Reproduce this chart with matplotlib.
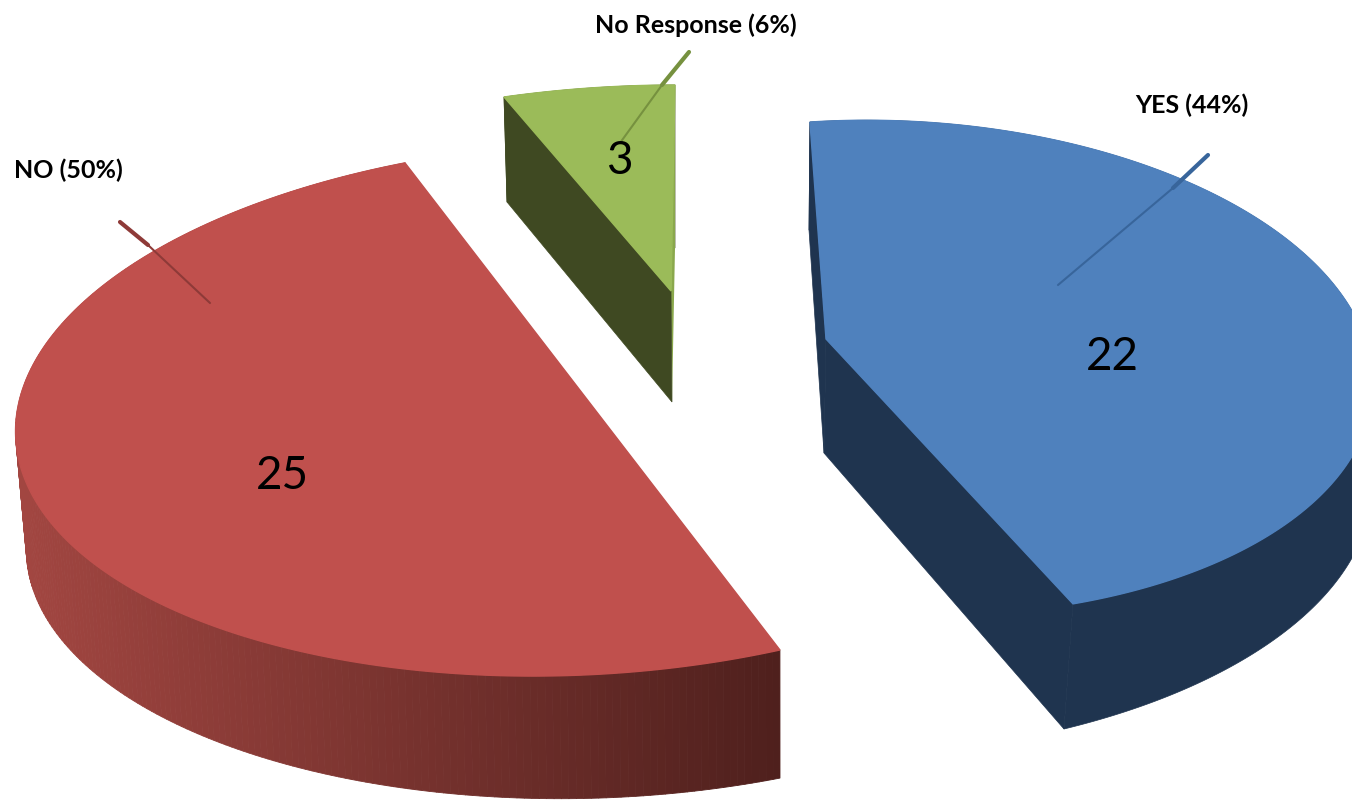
import numpy as np
import matplotlib
matplotlib.use("Agg")
import matplotlib.pyplot as plt
from matplotlib.collections import PolyCollection

names = ["YES", "NO", "No Response"]
values = [22, 25, 3]
top_cols = ["#4F81BD", "#C0504D", "#9BBB59"]
side_cols = ["#1F344F", None, "#3F4922"]
line_cols = ["#38659B", "#8E3A38", "#76913F"]

start_angle = 87.2

# projection anchors of each slice, (fraction of the sweep, pixel); None = pie centre
yes_top = [(None, (826, 339)), (0, (810, 122)), (0.25, (1160, 172)), (0.55, (1378, 380)), (0.8, (1268, 523)), (1, (1073, 604))]
yes_bot = [(None, (824, 453)), (0, (809, 230)), (0.55, (1372, 490)), (0.8, (1262, 648)), (1, (1064, 729))]
no_top = [(0, (780, 650)), (0.25, (338, 655)), (0.5, (52, 528)), (0.75, (74, 300)), (1, (405, 163))]
no_bot = [(0, (780, 778)), (0.25, (345, 786)), (0.5, (60, 625)), (0.75, (85, 430)), (1, (420, 290))]
nr_top = [(None, (671, 291)), (0, (504, 97)), (0.5, (590, 88)), (1, (675, 85))]
nr_bot = [(None, (672, 402)), (0, (507, 202)), (0.5, (590, 215)), (1, (675, 248))]
top_frames = [yes_top, no_top, nr_top]
bot_frames = [yes_bot, no_bot, nr_bot]

value_pos = [(1112, 357), (282, 476), (619, 161)]
label_pos = [(1192, 105), (68, 170), (696, 25)]
leaders = [[(1058, 285), (1173, 188), (1208, 155)],
           [(210, 303), (148, 245), (120, 222)],
           [(620, 143), (662, 85), (689, 52)]]


def fit_h(frame, a0, a1):
    rows = []
    arc_pts = [p for p in frame if p[0] is not None]
    use = frame if len(arc_pts) < 4 else arc_pts
    for frac, (u, v) in use:
        if frac is None:
            x, y = 0.0, 0.0
        else:
            t = np.radians(a0 + (a1 - a0) * frac)
            x, y = np.cos(t), np.sin(t)
        # slice corners count more than the points along the arc
        w = 6 if frac in (0, 1) else 1
        rows.append([w * c for c in [x, y, 1, 0, 0, 0, -u * x, -u * y, -u]])
        rows.append([w * c for c in [0, 0, 0, x, y, 1, -v * x, -v * y, -v]])
    return np.linalg.svd(np.array(rows))[2][-1].reshape(3, 3)


def project(h, t):
    p = h @ np.array([np.cos(t), np.sin(t), np.ones_like(t)])
    return np.column_stack([p[0] / p[2], p[1] / p[2]])


plt.rcParams['font.family'] = ['Lato', 'DejaVu Sans']
fig = plt.figure(figsize=(13.52, 8), dpi=100)
ax = fig.add_axes([0, 0, 1, 1])
ax.set_xlim(0, 1352)
ax.set_ylim(800, 0)
ax.axis("off")

total = sum(values)
sweeps = [v / total * 360 for v in values]
for i in [2, 0, 1]:
    a0 = start_angle - sum(sweeps[:i])
    a1 = a0 - sweeps[i]
    ts = np.radians(np.linspace(a0, a1, 240))
    top = project(fit_h(top_frames[i], a0, a1), ts)
    bot = project(fit_h(bot_frames[i], a0, a1), ts)
    if names[i] == "NO":
        # side of the red slice darkens from left to right
        quads = [[top[k], top[k + 1], bot[k + 1], bot[k]] for k in range(len(ts) - 1)]
        left = np.array(matplotlib.colors.to_rgb("#A24641"))
        right = np.array(matplotlib.colors.to_rgb("#4F201D"))
        f = np.clip((top[:-1, 0] - 20) / 760, 0, 1)[:, None]
        cols = left + (right - left) * f
        ax.add_collection(PolyCollection(quads, facecolors=cols, edgecolors=cols, linewidths=0.6))
        poly = top
    else:
        c_t, c_b = top_frames[i][0][1], bot_frames[i][0][1]
        arc = np.vstack([top, bot[::-1]])
        ax.fill(arc[:, 0], arc[:, 1], facecolor=side_cols[i], edgecolor=side_cols[i], lw=0.5)
        if names[i] == "No Response":
            ax.fill(*zip(top[-1], bot[-1], c_b, c_t), color="#8AA84C", lw=0)
        else:
            ax.fill(*zip(top[-1], bot[-1], c_b, c_t), facecolor=side_cols[i], edgecolor=side_cols[i], lw=0.5)
        ax.fill(*zip(top[0], bot[0], c_b, c_t), facecolor=side_cols[i], edgecolor=side_cols[i], lw=0.5)
        poly = np.vstack([c_t, top])
    ax.fill(poly[:, 0], poly[:, 1], facecolor=top_cols[i], edgecolor=top_cols[i], lw=1)

for i, name in enumerate(names):
    ln = leaders[i]
    ax.plot([ln[0][0], ln[1][0]], [ln[0][1], ln[1][1]], color=line_cols[i], lw=1.5, solid_capstyle="round")
    ax.plot([ln[1][0], ln[2][0]], [ln[1][1], ln[2][1]], color=line_cols[i], lw=3, solid_capstyle="round")
    ax.text(value_pos[i][0], value_pos[i][1], str(values[i]), fontsize=33, color="black", ha="center", va="center")
    ax.text(label_pos[i][0], label_pos[i][1], f"{name} ({values[i] / total:.0%})", fontsize=18, fontweight="bold",
            color="black", ha="center", va="center")

fig.savefig("out.png", dpi=100, facecolor="white")
